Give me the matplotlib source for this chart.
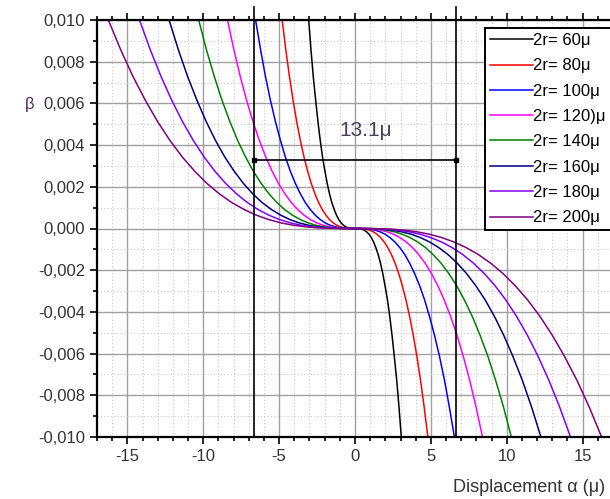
import numpy as np
import matplotlib
matplotlib.use('Agg')
import matplotlib.pyplot as plt
from matplotlib.ticker import MultipleLocator, FuncFormatter

plt.rcParams['font.family'] = ['Liberation Sans', 'DejaVu Sans']
plt.rcParams['axes.unicode_minus'] = False

# beta (x1e-3, magnitude) at the sampled points of the right half, alpha >= 0
beta_half = [0, 0.001, 0.01, 0.034, 0.08, 0.156, 0.27, 0.429, 0.64, 0.911, 1.25,
             1.664, 2.16, 2.746, 3.43, 4.219, 5.12, 6.141, 7.29, 8.574, 10.0,
             11.576, 13.31]

# displacement values (micron) read for each curve, right half
alpha_60 = [0, 0.15, 0.31, 0.46, 0.61, 0.76, 0.92, 1.07, 1.22, 1.37, 1.53, 1.68,
            1.83, 1.98, 2.14, 2.29, 2.44, 2.59, 2.75, 2.90, 3.05, 3.20, 3.36]
alpha_80 = [0, 0.24, 0.48, 0.72, 0.96, 1.20, 1.44, 1.68, 1.92, 2.16, 2.40, 2.64,
            2.88, 3.12, 3.36, 3.60, 3.84, 4.08, 4.32, 4.56, 4.80, 5.04, 5.28]
alpha_100 = [0, 0.33, 0.66, 0.98, 1.31, 1.64, 1.97, 2.29, 2.62, 2.95, 3.28, 3.60,
             3.93, 4.26, 4.59, 4.91, 5.24, 5.57, 5.90, 6.22, 6.55, 6.88, 7.21]
alpha_120 = [0, 0.42, 0.84, 1.26, 1.68, 2.10, 2.52, 2.94, 3.36, 3.78, 4.20, 4.62,
             5.04, 5.46, 5.88, 6.30, 6.72, 7.14, 7.56, 7.98, 8.40, 8.82, 9.24]
alpha_140 = [0, 0.52, 1.03, 1.55, 2.06, 2.58, 3.09, 3.61, 4.12, 4.64, 5.15, 5.67,
             6.18, 6.70, 7.21, 7.73, 8.24, 8.76, 9.27, 9.79, 10.30, 10.82, 11.33]
alpha_160 = [0, 0.61, 1.23, 1.84, 2.45, 3.06, 3.68, 4.29, 4.90, 5.51, 6.13, 6.74,
             7.35, 7.96, 8.58, 9.19, 9.80, 10.41, 11.03, 11.64, 12.25, 12.86, 13.48]
alpha_180 = [0, 0.71, 1.42, 2.13, 2.84, 3.55, 4.26, 4.97, 5.68, 6.39, 7.10, 7.81,
             8.52, 9.23, 9.94, 10.65, 11.36, 12.07, 12.78, 13.49, 14.20, 14.91, 15.62]
alpha_200 = [0, 0.81, 1.63, 2.44, 3.25, 4.06, 4.88, 5.69, 6.50, 7.31, 8.13, 8.94,
             9.75, 10.56, 11.38, 12.19, 13.00, 13.81, 14.63, 15.44, 16.25, 17.06, 17.88]

labels = ['2r= 60μ', '2r= 80μ', '2r= 100μ', '2r= 120)μ',
          '2r= 140μ', '2r= 160μ', '2r= 180μ', '2r= 200μ']
colors = ['#000000', '#ff0000', '#0000ff', '#ff00ff',
          '#008000', '#000080', '#8000ff', '#800080']
curves = [alpha_60, alpha_80, alpha_100, alpha_120,
          alpha_140, alpha_160, alpha_180, alpha_200]

# the two vertical markers and the width annotation
marker_x = [-6.65, 6.65]
arrow_y = 0.00329
width_text = '13.1μ'

fig = plt.figure(figsize=(6.1, 4.99), dpi=100)
ax = fig.add_axes([97 / 610, 62 / 499, 516 / 610, 417 / 499])

b = np.array(beta_half) * 1e-3
for a, lab, col in zip(curves, labels, colors):
    a = np.array(a)
    x = np.concatenate([-a[::-1], a[1:]])
    y = np.concatenate([b[::-1], -b[1:]])
    ax.plot(x, y, color=col, lw=1.1, label=lab)

for mx in marker_x:
    ax.plot([mx, mx], [-0.010, 0.01062], color='black', lw=1.2, clip_on=False)
ax.plot(marker_x, [arrow_y, arrow_y], color='black', lw=1.2,
        marker='s', markersize=3.5)
ax.text(0.7, 0.0047, width_text, fontsize=15, color='#4a3f5a',
        ha='center', va='center')

ax.set_xlim(-17, 17)
ax.set_ylim(-0.010, 0.010)
ax.xaxis.set_major_locator(MultipleLocator(5))
ax.xaxis.set_minor_locator(MultipleLocator(1))
ax.yaxis.set_major_locator(MultipleLocator(0.002))
ax.yaxis.set_minor_locator(MultipleLocator(0.001))
ax.yaxis.set_major_formatter(FuncFormatter(lambda v, p: f'{v:.3f}'.replace('.', ',').replace('-0,000', '0,000')))
ax.xaxis.set_major_formatter(FuncFormatter(lambda v, p: f'{v:.0f}'))

ax.grid(which='major', color='#a0a0a0', lw=1.0)
ax.grid(which='minor', color='#c8c8c8', lw=0.8, ls=(0, (1, 2)))
ax.set_axisbelow(True)

ax.tick_params(which='both', direction='out', top=True, right=True,
               labelsize=12, labelcolor='#333333', width=1.2)
ax.tick_params(which='major', length=5)
ax.tick_params(which='minor', length=3)
for s in ax.spines.values():
    s.set_linewidth(1.6)

leg = ax.legend(loc='upper left', bbox_to_anchor=(485 / 610, 1 - 28 / 499),
                bbox_transform=fig.transFigure, borderaxespad=0,
                fontsize=12, frameon=True, fancybox=False, framealpha=1,
                edgecolor='black', handlelength=2.6, handletextpad=0.0,
                labelspacing=0.62, borderpad=0.3)
leg.get_frame().set_linewidth(1.4)

fig.text(30 / 610, 1 - 105 / 499, 'β', fontsize=12, color='#4b2d5a',
         ha='center', va='center')
fig.text(605 / 610, 1 - 487 / 499, 'Displacement α (μ)', fontsize=13,
         color='#333333', ha='right', va='center')

fig.savefig('out.png', dpi=100)
